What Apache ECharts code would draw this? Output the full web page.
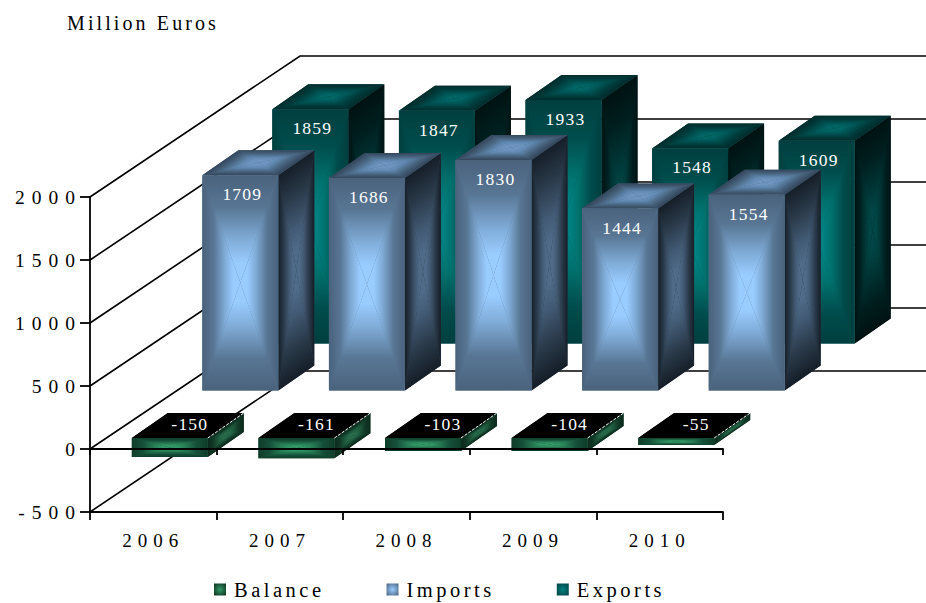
<!DOCTYPE html>
<html><head><meta charset="utf-8">
<style>
html,body{margin:0;padding:0;background:#fff}
#main{width:926px;height:603px}
#main text[style*="17.5px"]{letter-spacing:1.2px}
#main text[style*="19px"]{letter-spacing:6px}
#main text[style*="19.5px"]{letter-spacing:7px}
#main text[style*="20px"]{letter-spacing:3.1px}
#main text[style*="20.5px"]{letter-spacing:3.5px}
</style>
<script src="https://cdn.jsdelivr.net/npm/echarts@6/dist/echarts.min.js"></script>
</head><body><div id="main"></div>
<script>
const categories = ['2006','2007','2008','2009','2010'];
const balance = [-150,-161,-103,-104,-55];
const imports = [1709,1686,1830,1444,1554];
const exportsV = [1859,1847,1933,1548,1609];
const yTicks = [-500,0,500,1000,1500,2000];
const unitTitle = 'Million Euros';

const FONT = '"Liberation Serif", serif';
const WALL = [210,-141];

const palettes = {
  Balance:{
    front:['#0e3d29','#16503a','#277f56','#339966'],
    side:['#0b2a1c','#113826','#1e5a3e','#2a6d4d'],
    top:['#000','#000','#000','#000']
  },
  Imports:{
    front:['#4a627c','#587694','#80acd8','#99ccff'],
    side:['#151e28','#2a3a4a','#425a74','#4f6b88'],
    top:['#33455a','#48647f','#6088b0','#6f96c0']
  },
  Exports:{
    front:['#003f3f','#004c4c','#00706c','#008080'],
    side:['#001212','#001f1f','#003636','#004646'],
    top:['#002b2b','#003c3c','#005555','#006666']
  }
};
const stopsOf = c => [{offset:0,color:c[0]},{offset:.3,color:c[1]},{offset:.6,color:c[2]},{offset:.82,color:c[3]},{offset:1,color:c[3]}];

function boxFace(pts, colors){
  const cx = pts.reduce((s,p)=>s+p[0],0)/4, cy = pts.reduce((s,p)=>s+p[1],0)/4;
  const out = [{type:'polygon',shape:{points:pts},style:{fill:colors[1]}}];
  for(let i=0;i<4;i++){
    const a=pts[i], b=pts[(i+1)%4];
    const ex=b[0]-a[0], ey=b[1]-a[1], l2=ex*ex+ey*ey||1;
    const t=((cx-a[0])*ex+(cy-a[1])*ey)/l2;
    const fx=a[0]+t*ex, fy=a[1]+t*ey;
    out.push({type:'polygon',shape:{points:[a,b,[cx,cy]]},style:{
      fill:{type:'linear',x:fx,y:fy,x2:cx,y2:cy,global:true,colorStops:stopsOf(colors)}
    }});
  }
  return out;
}

function barSeries(name, values, shift, depth, z){
  return {
    name, type:'custom', coordinateSystem:'cartesian2d', z, clip:false, silent:true,
    encode:{x:0,y:1},
    data: values.map((v,i)=>[i,v]),
    renderItem(params, api){
      const i=api.value(0), v=api.value(1);
      const zero=api.coord([i,0]), end=api.coord([i,v]);
      const w=api.size([1,0])[0]*0.6;
      const x0=zero[0]-w/2+shift[0], x1=x0+w;
      const topY=Math.min(zero[1],end[1])+shift[1], botY=Math.max(zero[1],end[1])+shift[1];
      const [dx,dy]=depth, P=palettes[name];
      const front=[[x0,topY],[x1,topY],[x1,botY],[x0,botY]];
      const side=[[x1,topY],[x1+dx,topY+dy],[x1+dx,botY+dy],[x1,botY]];
      const top=[[x0,topY],[x0+dx,topY+dy],[x1+dx,topY+dy],[x1,topY]];
      const children=[...boxFace(side,P.side),...boxFace(top,P.top),...boxFace(front,P.front)];
      if(v<0){
        children.push({type:'line',shape:{x1:x1,y1:topY,x2:x1+dx,y2:topY+dy},
          style:{stroke:'#fff',lineWidth:1,lineDash:[3,1.5]}});
      }
      const lx = v<0 ? (x0+x1)/2+20 : (x0+x1)/2+2;
      const ly = v<0 ? topY-14.5 : topY+19;
      children.push({type:'text',x:lx,y:ly,style:{
        text:String(v),fill:'#fff',font:'17.5px '+FONT,align:'center',verticalAlign:'middle'
      }});
      return {type:'group',children};
    }
  };
}

const wallSeries = {
  name:'walls', type:'custom', coordinateSystem:'cartesian2d', z:1, clip:false, silent:true,
  encode:{x:0,y:1},
  data: yTicks.map(v=>[0,v]),
  renderItem(params, api){
    const v=api.value(1), p=api.coord([0,v]), cs=params.coordSys;
    const a=[cs.x,p[1]], b=[cs.x+WALL[0],p[1]+WALL[1]], c=[cs.x+cs.width+WALL[0],b[1]];
    return {type:'polyline',shape:{points:[a,b,c]},style:{stroke:'#000',lineWidth:1.6,fill:'none'}};
  }
};

const chart = echarts.init(document.getElementById('main'),null,{renderer:'svg'});
const axisLine={lineStyle:{color:'#000',width:1.8}};
const legendSwatch=(a,b)=>({type:'radial',x:.5,y:.5,r:.7,colorStops:[{offset:0,color:a},{offset:1,color:b}]});
chart.setOption({
  animation:false,
  backgroundColor:'#fff',
  title:{text:unitTitle,left:67,top:13,padding:0,textStyle:{fontFamily:FONT,fontSize:20,fontWeight:'normal',color:'#000'}},
  legend:{
    left:214,top:579,padding:0,itemWidth:12,itemHeight:12,itemGap:86.5,
    textStyle:{fontFamily:FONT,fontSize:20.5,color:'#000',padding:[0,0,0,3]},
    data:[
      {name:'Balance',icon:'rect',itemStyle:{color:legendSwatch('#339966','#0b2e1e')}},
      {name:'Imports',icon:'rect',itemStyle:{color:legendSwatch('#99ccff','#4a627c')}},
      {name:'Exports',icon:'rect',itemStyle:{color:legendSwatch('#008080','#003f3f')}}
    ]
  },
  grid:{left:90,top:197,width:633,height:315,containLabel:false},
  xAxis:[
    {type:'category',data:categories,position:'bottom',z:10,
     axisLine:{show:true,onZero:false,...axisLine},
     axisTick:{show:true,length:8,lineStyle:{color:'#000',width:1.8}},
     axisLabel:{color:'#000',fontFamily:FONT,fontSize:19,margin:19}},
    {type:'category',data:categories,position:'bottom',z:10,
     axisLine:{show:true,onZero:true,...axisLine},
     axisTick:{show:true,length:6,lineStyle:{color:'#000',width:1.8}},
     axisLabel:{show:false}}
  ],
  yAxis:{type:'value',min:-500,max:2000,interval:500,
    axisLine:{show:true,onZero:false,...axisLine},
    axisTick:{show:true,length:10,lineStyle:{color:'#000',width:1.8}},
    splitLine:{show:false},
    axisLabel:{color:'#000',fontFamily:FONT,fontSize:19.5,margin:8,formatter:v=>String(v)}},
  series:[
    wallSeries,
    barSeries('Exports',exportsV,[157,-105.5],[36,-25],3),
    barSeries('Imports',imports,[87,-58.5],[36,-25],4),
    barSeries('Balance',balance,[16.5,-11],[36,-25],5)
  ]
});
</script></body></html>
